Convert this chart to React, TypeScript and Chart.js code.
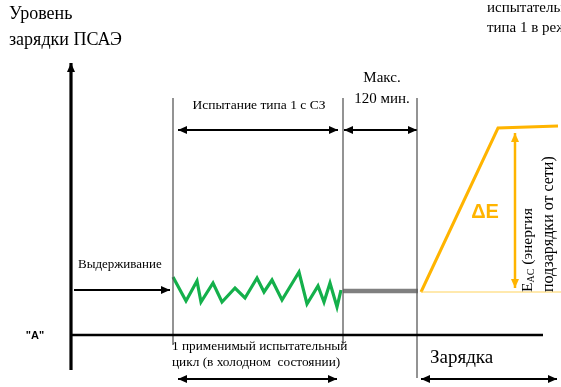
import React, { useEffect, useRef } from "react";
import { Chart, registerables } from "chart.js";

Chart.register(...registerables);

// ---- data (x: time units from the level axis, y: charge level units above the baseline) ----
const cycleTime = [102, 115, 126, 130, 142, 151, 164, 174, 186, 193, 201, 211, 228, 236, 247, 253, 259, 266, 270];
const cycleLevel = [58, 34, 54, 33, 52, 33, 47, 37, 57, 43, 55, 35, 63, 31, 49, 33, 52, 28, 45];
const holdTime = [272, 347];
const holdLevel = [44, 44];
const chargeTime = [350, 427, 487];
const chargeLevel = [43, 207, 209];
const chargeBaseTime = [350, 490];
const chargeBaseLevel = [43, 43];
const deltaETime = [444, 444];
const deltaELevel = [47, 202];
const phaseBounds = [102, 272, 346];
const phaseTop = 237;
const phaseBottoms = [-10, -10, -43];
const levelAxisTime = [0, 0];
const levelAxisLevel = [-35, 272];
const timeAxisTime = [0, 472];
const timeAxisLevel = [0, 0];
const testSpanTime = [107, 267];
const maxSpanTime = [273, 346];
const spanLevel = 205;
const soakTime = [3, 99];
const soakLevel = 45;
const cycleSpanTime = [107, 266];
const chargeSpanTime = [350, 486];
const bottomSpanLevel = -44;

const SERIF = "'Liberation Serif', 'Times New Roman', serif";
const SANS = "'Liberation Sans', Arial, sans-serif";

const textItems = [
  { text: "Уровень", x: -62, y: 321, font: `18px ${SERIF}`, align: "left" },
  { text: "зарядки ПСАЭ", x: -62, y: 295, font: `18px ${SERIF}`, align: "left" },
  { text: "испытательный", x: 416, y: 327, font: `15px ${SERIF}`, align: "left" },
  { text: "типа 1 в режиме", x: 416, y: 307, font: `15px ${SERIF}`, align: "left" },
  { text: "Испытание типа 1 с СЗ", x: 188, y: 230, font: `13.5px ${SERIF}`, align: "center" },
  { text: "Макс.", x: 311, y: 257, font: `15px ${SERIF}`, align: "center" },
  { text: "120 мин.", x: 311, y: 236, font: `15px ${SERIF}`, align: "center" },
  { text: "Выдерживание", x: 7, y: 70, font: `13px ${SERIF}`, align: "left" },
  { text: "\"A\"", x: -36, y: -1, font: `bold 11px ${SANS}`, align: "center" },
  { text: "1 применимый испытательный", x: 101, y: -12, font: `13.3px ${SERIF}`, align: "left" },
  { text: "цикл (в холодном  состоянии)", x: 101, y: -28, font: `13.3px ${SERIF}`, align: "left" },
  { text: "Зарядка", x: 359, y: -23, font: `19px ${SERIF}`, align: "left" },
  { text: "ΔE", x: 414, y: 123, font: `bold 20px ${SANS}`, align: "center", color: "#ffb400" },
];

const pts = (xs: number[], ys: number[]) => xs.map((x, i) => ({ x, y: ys[i] }));

const line = (label: string, data: any[], color: string, width: number, arrowStart = false, arrowEnd = false) => ({
  label,
  data,
  borderColor: color,
  backgroundColor: color,
  borderWidth: width,
  showLine: true,
  pointRadius: 0,
  tension: 0,
  arrowStart,
  arrowEnd,
});

const arrowPlugin = {
  id: "arrowHeads",
  afterDatasetsDraw(chart: any) {
    const ctx = chart.ctx;
    chart.data.datasets.forEach((ds: any, i: number) => {
      if (!ds.arrowStart && !ds.arrowEnd) return;
      const meta = chart.getDatasetMeta(i);
      const els = meta.data;
      if (els.length < 2) return;
      const draw = (tip: any, from: any) => {
        const dx = tip.x - from.x;
        const dy = tip.y - from.y;
        const len = Math.hypot(dx, dy) || 1;
        const ux = dx / len, uy = dy / len;
        const L = 9, W = 4;
        ctx.save();
        ctx.fillStyle = ds.borderColor;
        ctx.beginPath();
        ctx.moveTo(tip.x, tip.y);
        ctx.lineTo(tip.x - ux * L - uy * W, tip.y - uy * L + ux * W);
        ctx.lineTo(tip.x - ux * L + uy * W, tip.y - uy * L - ux * W);
        ctx.closePath();
        ctx.fill();
        ctx.restore();
      };
      if (ds.arrowEnd) draw(els[els.length - 1], els[els.length - 2]);
      if (ds.arrowStart) draw(els[0], els[1]);
    });
  },
};

const textPlugin = {
  id: "diagramText",
  afterDatasetsDraw(chart: any) {
    const { ctx } = chart;
    const xs = chart.scales.x;
    const ys = chart.scales.y;
    ctx.save();
    ctx.textBaseline = "middle";
    for (const t of textItems) {
      ctx.font = t.font;
      ctx.fillStyle = (t as any).color || "#000";
      ctx.textAlign = t.align as CanvasTextAlign;
      ctx.fillText(t.text, xs.getPixelForValue(t.x), ys.getPixelForValue(t.y));
    }
    // rotated label of the charging energy
    const drawRot = (px: number, py: number, parts: { t: string; f: string; dy: number }[]) => {
      ctx.save();
      ctx.translate(px, py);
      ctx.rotate(-Math.PI / 2);
      ctx.textAlign = "left";
      ctx.fillStyle = "#000";
      let cx = 0;
      for (const p of parts) {
        ctx.font = p.f;
        ctx.fillText(p.t, cx, p.dy);
        cx += ctx.measureText(p.t).width;
      }
      ctx.restore();
    };
    drawRot(xs.getPixelForValue(457), ys.getPixelForValue(43), [
      { t: "E", f: `15.5px ${SERIF}`, dy: 0 },
      { t: "AC", f: `10px ${SERIF}`, dy: 3 },
      { t: " (энергия", f: `15.5px ${SERIF}`, dy: 0 },
    ]);
    drawRot(xs.getPixelForValue(478), ys.getPixelForValue(43), [
      { t: "подзарядки от сети)", f: `16px ${SERIF}`, dy: 0 },
    ]);
    ctx.restore();
  },
};

export default function App() {
  const ref = useRef<HTMLCanvasElement | null>(null);
  useEffect(() => {
    if (!ref.current) return;
    const grey = "#5a5a5a";
    const datasets: any[] = [
      line("levelAxis", pts(levelAxisTime, levelAxisLevel), "#000", 3.2, false, true),
      line("timeAxis", pts(timeAxisTime, timeAxisLevel), "#000", 2.6),
      ...phaseBounds.map((b, i) => line("bound" + i, [{ x: b, y: phaseTop }, { x: b, y: phaseBottoms[i] }], grey, 1.3)),
      line("chargeBase", pts(chargeBaseTime, chargeBaseLevel), "#ffd35c", 1),
      line("cycle", pts(cycleTime, cycleLevel), "#14b04b", 3.2),
      line("hold", pts(holdTime, holdLevel), "#808080", 4.5),
      line("charge", pts(chargeTime, chargeLevel), "#ffb400", 3),
      line("deltaE", pts(deltaETime, deltaELevel), "#ffb400", 2.5, true, true),
      line("testSpan", testSpanTime.map((x) => ({ x, y: spanLevel })), "#000", 2.2, true, true),
      line("maxSpan", maxSpanTime.map((x) => ({ x, y: spanLevel })), "#000", 2.2, true, true),
      line("soak", soakTime.map((x) => ({ x, y: soakLevel })), "#000", 2.2, false, true),
      line("cycleSpan", cycleSpanTime.map((x) => ({ x, y: bottomSpanLevel })), "#000", 2.2, true, true),
      line("chargeSpan", chargeSpanTime.map((x) => ({ x, y: bottomSpanLevel })), "#000", 2.2, true, true),
    ];
    const chart = new Chart(ref.current, {
      type: "scatter",
      data: { datasets },
      options: {
        animation: false,
        responsive: false,
        devicePixelRatio: 1,
        events: [],
        layout: { padding: 0 },
        plugins: { legend: { display: false }, tooltip: { enabled: false }, title: { display: false } },
        scales: {
          x: { type: "linear", min: -71, max: 490, display: false },
          y: { type: "linear", min: -52, max: 335, display: false },
        },
      },
      plugins: [arrowPlugin, textPlugin],
    });
    return () => chart.destroy();
  }, []);
  return (
    <div style={{ position: "fixed", left: 0, top: 0, width: 561, height: 387, background: "#fff" }}>
      <canvas ref={ref} width={561} height={387} style={{ display: "block" }} />
    </div>
  );
}
